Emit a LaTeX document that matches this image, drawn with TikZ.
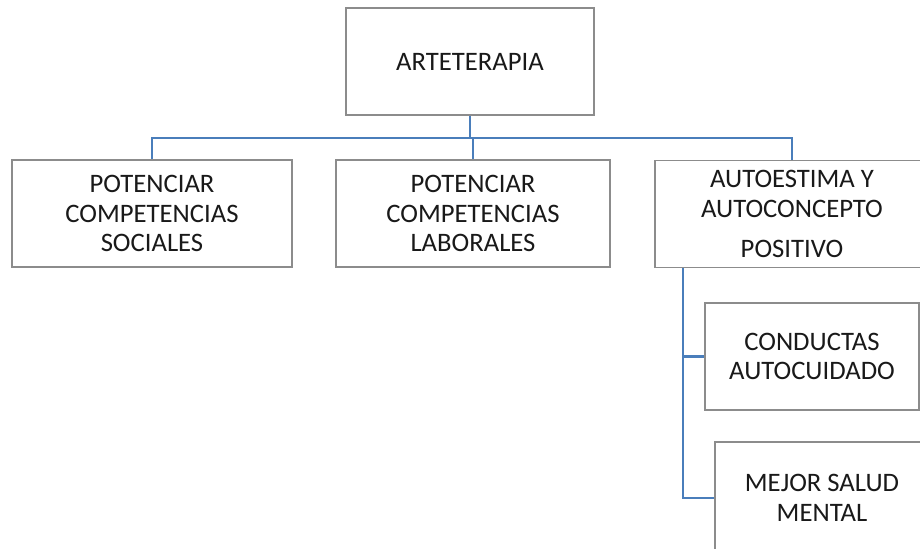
\documentclass[tikz,border=0pt]{standalone}
\usepackage{fontspec}
\setmainfont{Carlito}
\definecolor{boxline}{RGB}{140,140,140}
\definecolor{linkblue}{RGB}{74,126,187}
\definecolor{ink}{RGB}{25,25,25}
\begin{document}
\begin{tikzpicture}[x=0.75pt,y=-0.75pt,
  box/.style={draw=boxline,line width=1.1pt,fill=white,align=center,
    text=ink,font=\fontsize{20}{22}\selectfont,inner sep=0pt,
    minimum height=80.25pt},
  link/.style={draw=linkblue,line width=1.8pt}]
\useasboundingbox (0,0) rectangle (920,549);
\clip (0,0) rectangle (920,549);
\fill[white] (0,0) rectangle (920,549);

% hierarchy boxes
\node[box,minimum width=186pt] (arte) at (470,61.5) {ARTETERAPIA};
\node[box,minimum width=210pt] (soc) at (152,213.5) {POTENCIAR\\COMPETENCIAS\\SOCIALES};
\node[box,minimum width=205.5pt] (lab) at (473,213.5) {POTENCIAR\\COMPETENCIAS\\LABORALES};
\node[box,minimum width=205.5pt] (auto) at (792,214) {AUTOESTIMA Y\\AUTOCONCEPTO\\[8pt]POSITIVO};
\node[box,minimum width=160.5pt] (cuid) at (812,356.5) {CONDUCTAS\\AUTOCUIDADO};
\node[box,minimum width=160.5pt,minimum height=84pt] (salud) at (822,498) {MEJOR SALUD\\MENTAL};

% first-level bus
\coordinate (bus) at (470,138);
\draw[link] (arte.south) -- (arte.south |- bus);
\draw[link] (soc.north) -- (soc.north |- bus) -- (auto.north |- bus) -- (auto.north);
\draw[link] (lab.north) -- (lab.north |- bus);

% spine below the self-esteem box
\coordinate (spine) at (683,268);
\draw[link] (spine) -- (spine |- salud.west) -- (salud.west);
\draw[link] (spine |- cuid.west) -- (cuid.west);
\end{tikzpicture}
\end{document}
